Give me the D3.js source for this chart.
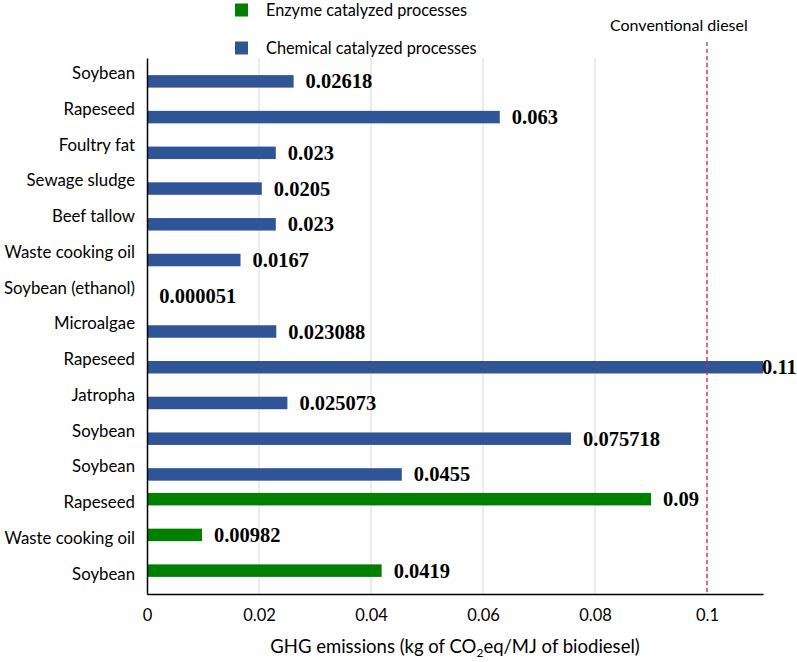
<!DOCTYPE html>
<html>
<head>
<meta charset="utf-8">
<title>GHG emissions of biodiesel</title>
<script src="https://d3js.org/d3.v7.min.js"></script>
<style>
  body { margin: 0; background: #fff; }
</style>
</head>
<body>
<script>
// categories from top to bottom
var categories = ["Soybean", "Rapeseed", "Foultry fat", "Sewage sludge", "Beef tallow",
  "Waste cooking oil", "Soybean (ethanol)", "Microalgae", "Rapeseed", "Jatropha",
  "Soybean", "Soybean", "Rapeseed", "Waste cooking oil", "Soybean"];
var enzyme = [null, null, null, null, null, null, null, null, null, null, null, null, 0.09, 0.00982, 0.0419];
var chemical = [0.02618, 0.063, 0.023, 0.0205, 0.023, 0.0167, 0.000051, 0.023088, 0.11, 0.025073,
  0.075718, 0.0455, null, null, null];
var seriesNames = ["Enzyme catalyzed processes", "Chemical catalyzed processes"];
var seriesColors = ["#008000", "#2F5597"];
var xTicks = [0, 0.02, 0.04, 0.06, 0.08, 0.1];
var xMax = 0.11;
var dieselValue = 0.1;

var w = 797, h = 662;
var margin = {top: 58, right: 34, bottom: 68, left: 147};

var svg = d3.select("body").append("svg")
  .attr("width", w)
  .attr("height", h);

var x = d3.scaleLinear().domain([0, xMax]).range([margin.left, w - margin.right]);
var y = d3.scaleBand().domain(d3.range(categories.length)).range([margin.top, h - margin.bottom]);
var bw = y.bandwidth();
var ySub = d3.scaleBand().domain([0, 1]).range([bw / 2 - 11, bw / 2 + 11]);
var barH = 12.5;

// gridlines
svg.append("g").selectAll("line")
  .data(xTicks.filter(function(d) { return d > 0; }))
  .enter().append("line")
  .attr("x1", function(d) { return x(d); })
  .attr("x2", function(d) { return x(d); })
  .attr("y1", margin.top)
  .attr("y2", h - margin.bottom)
  .attr("stroke", "#d9d9d9")
  .attr("stroke-width", 1);

// bars + labels for each series
[enzyme, chemical].forEach(function(vals, s) {
  var rows = vals.map(function(v, i) { return {i: i, v: v}; }).filter(function(d) { return d.v !== null; });
  svg.append("g").selectAll("rect")
    .data(rows)
    .enter().append("rect")
    .attr("x", x(0))
    .attr("y", function(d) { return y(d.i) + ySub(s) + ySub.bandwidth() / 2 - barH / 2; })
    .attr("width", function(d) { return x(d.v) - x(0); })
    .attr("height", barH)
    .attr("fill", seriesColors[s]);

  svg.append("g").selectAll("text")
    .data(rows)
    .enter().append("text")
    .text(function(d) { return String(d.v); })
    .attr("x", function(d) { return Math.min(x(d.v) + 12, x(xMax) - 1); })
    .attr("y", function(d) { return y(d.i) + ySub(s) + ySub.bandwidth() / 2 + 7; })
    .attr("font-family", "'Liberation Serif', 'Times New Roman', serif")
    .attr("font-weight", "bold")
    .attr("font-size", 20.5)
    .attr("fill", "#000");
});

// conventional diesel reference line
svg.append("line")
  .attr("x1", x(dieselValue)).attr("x2", x(dieselValue))
  .attr("y1", 42).attr("y2", h - margin.bottom)
  .attr("stroke", "#C0304A")
  .attr("stroke-width", 1.3)
  .attr("stroke-dasharray", "4,3");
svg.append("text")
  .text("Conventional diesel")
  .attr("x", x(dieselValue) - 97)
  .attr("y", 31)
  .attr("font-family", "Lato, sans-serif")
  .attr("font-size", 16)
  .attr("fill", "#000");

// axes
var yAxis = svg.append("g")
  .attr("transform", "translate(" + margin.left + ",0)")
  .call(d3.axisLeft(y).tickSize(0).tickPadding(12).tickFormat(function(i) { return categories[i]; }));
yAxis.select(".domain").attr("stroke", "#000").attr("stroke-width", 1.5);
yAxis.selectAll("text").attr("font-family", "Lato, sans-serif").attr("font-size", 16.8).attr("fill", "#000").attr("dy", "0.2em");

var xAxis = svg.append("g")
  .attr("transform", "translate(0," + (h - margin.bottom) + ")")
  .call(d3.axisBottom(x).tickValues(xTicks).tickSize(0).tickPadding(15).tickFormat(function(d) { return String(d); }));
xAxis.select(".domain").attr("stroke", "#000").attr("stroke-width", 1.5);
xAxis.selectAll("text").attr("font-family", "Lato, sans-serif").attr("font-size", 16.5).attr("fill", "#000");

// x axis title
var title = svg.append("text")
  .attr("x", (x(0) + x(xMax)) / 2)
  .attr("y", 653)
  .attr("text-anchor", "middle")
  .attr("font-family", "Lato, sans-serif")
  .attr("font-size", 18.5)
  .attr("fill", "#000");
title.append("tspan").text("GHG emissions (kg of CO");
title.append("tspan").text("2").attr("font-size", 12).attr("dy", 4);
title.append("tspan").text("eq/MJ of biodiesel)").attr("dy", -4);

// legend
var legend = svg.append("g").selectAll("g")
  .data(seriesNames)
  .enter().append("g")
  .attr("transform", function(d, i) { return "translate(235," + (i === 0 ? 10 : 48) + ")"; });
legend.append("rect")
  .attr("x", 0).attr("y", -6.5)
  .attr("width", 13).attr("height", 13)
  .attr("fill", function(d, i) { return seriesColors[i]; });
legend.append("text")
  .text(function(d) { return d; })
  .attr("x", 31).attr("y", 5.5)
  .attr("font-family", "Lato, sans-serif")
  .attr("font-size", 16.3)
  .attr("fill", "#000");
</script>
</body>
</html>
